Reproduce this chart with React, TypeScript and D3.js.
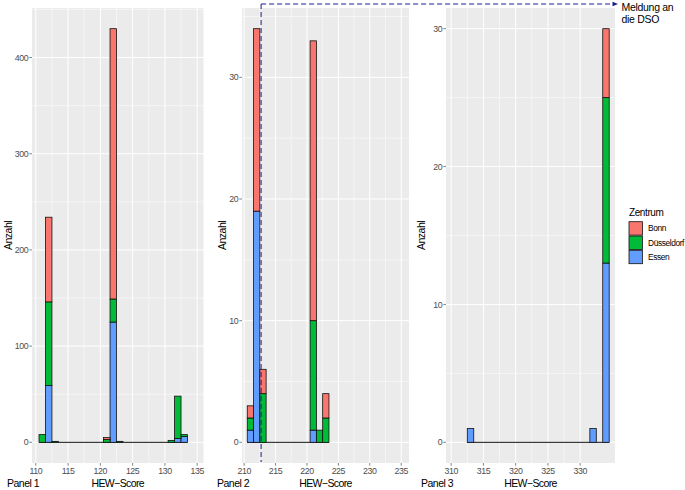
import * as d3 from "d3";

const W = 685;
const H = 490;

// ---- data: stacked histogram counts per HEW-Score bin (binwidth 1)
const centres = ["Bonn", "Düsseldorf", "Essen"];
const stackKeys = ["Essen", "Düsseldorf", "Bonn"]; // bottom -> top
const fills: Record<string, string> = {
  Bonn: "#F8766D",
  "Düsseldorf": "#00BA38",
  Essen: "#619CFF",
};

const p1Scores = [111, 112, 113, 121, 122, 123, 131, 132, 133];
const p1Essen = [0, 59, 0, 0, 125, 0, 0, 4, 6];
const p1Duesseldorf = [8, 87, 1, 3, 24, 1, 2, 44, 2];
const p1Bonn = [0, 88, 0, 2, 281, 0, 0, 0, 0];
const p1XTicks = [110, 115, 120, 125, 130, 135];
const p1YTicks = [0, 100, 200, 300, 400];

const p2Scores = [211, 212, 213, 221, 222, 223];
const p2Essen = [1, 19, 0, 1, 0, 0];
const p2Duesseldorf = [1, 0, 4, 9, 1, 2];
const p2Bonn = [1, 15, 2, 23, 0, 2];
const p2XTicks = [210, 215, 220, 225, 230, 235];
const p2YTicks = [0, 10, 20, 30];

const p3Scores = [313, 332, 334];
const p3Essen = [1, 1, 13];
const p3Duesseldorf = [0, 0, 12];
const p3Bonn = [0, 0, 5];
const p3XTicks = [310, 315, 320, 325, 330];
const p3YTicks = [0, 10, 20, 30];

const dsoCutoff = 212.7;

// ---- layout
const plotTop = 8;
const plotBottom = 463;

const panels = [
  {
    label: "Panel 1",
    left: 32, right: 203.5,
    xDomain: [109.41, 135.98], yDomain: [-21.5, 451.5],
    scores: p1Scores, essen: p1Essen, duess: p1Duesseldorf, bonn: p1Bonn,
    xTicks: p1XTicks, yTicks: p1YTicks, yMinor: [50, 150, 250, 350, 450],
    yTitleX: 8,
  },
  {
    label: "Panel 2",
    left: 242, right: 409,
    xDomain: [209.66, 236.24], yDomain: [-1.7, 35.7],
    scores: p2Scores, essen: p2Essen, duess: p2Duesseldorf, bonn: p2Bonn,
    xTicks: p2XTicks, yTicks: p2YTicks, yMinor: [5, 15, 25, 35],
    yTitleX: 222,
  },
  {
    label: "Panel 3",
    left: 446, right: 615,
    xDomain: [309.2, 335.4], yDomain: [-1.5, 31.5],
    scores: p3Scores, essen: p3Essen, duess: p3Duesseldorf, bonn: p3Bonn,
    xTicks: p3XTicks, yTicks: p3YTicks, yMinor: [5, 15, 25],
    yTitleX: 421,
  },
];

const tickColor = "#333333";
const tickText = "#4D4D4D";

const Panel = ({ p }: { p: any }) => {
  const xs = d3.scaleLinear().domain(p.xDomain).range([p.left, p.right]);
  const ys = d3.scaleLinear().domain(p.yDomain).range([plotBottom, plotTop]);

  const rows = p.scores.map((s: number, i: number) => ({
    score: s,
    Essen: p.essen[i],
    "Düsseldorf": p.duess[i],
    Bonn: p.bonn[i],
  }));
  const stacked = d3.stack<any>().keys(stackKeys)(rows);

  const xMinor = p.xTicks
    .slice(0, -1)
    .map((t: number, i: number) => (t + p.xTicks[i + 1]) / 2)
    .filter((v: number) => v > p.xDomain[0] && v < p.xDomain[1]);

  const first = p.scores[0];
  const last = p.scores[p.scores.length - 1];
  const midX = (p.left + p.right) / 2;
  const midY = (plotTop + plotBottom) / 2;

  return (
    <g>
      <rect x={p.left} y={plotTop} width={p.right - p.left} height={plotBottom - plotTop} fill="#EBEBEB" />
      {p.yMinor.map((v: number) => (
        <line key={"ym" + v} x1={p.left} x2={p.right} y1={ys(v)} y2={ys(v)} stroke="#fff" strokeWidth={0.5} />
      ))}
      {xMinor.map((v: number) => (
        <line key={"xm" + v} x1={xs(v)} x2={xs(v)} y1={plotTop} y2={plotBottom} stroke="#fff" strokeWidth={0.5} />
      ))}
      {p.yTicks.map((v: number) => (
        <line key={"yg" + v} x1={p.left} x2={p.right} y1={ys(v)} y2={ys(v)} stroke="#fff" strokeWidth={1} />
      ))}
      {p.xTicks.map((v: number) => (
        <line key={"xg" + v} x1={xs(v)} x2={xs(v)} y1={plotTop} y2={plotBottom} stroke="#fff" strokeWidth={1} />
      ))}

      {/* zero-count bins show up as a flat outline on the baseline */}
      <line x1={xs(first - 0.5)} x2={xs(last + 0.5)} y1={ys(0)} y2={ys(0)} stroke="#111" strokeWidth={1} />

      {stacked.map((layer: any) =>
        layer.map((d: any, i: number) => {
          const h = ys(d[0]) - ys(d[1]);
          if (h <= 0) return null;
          const s = p.scores[i];
          return (
            <rect
              key={layer.key + s}
              x={xs(s - 0.5)}
              width={xs(s + 0.5) - xs(s - 0.5)}
              y={ys(d[1])}
              height={h}
              fill={fills[layer.key]}
              stroke="#111"
              strokeWidth={0.8}
            />
          );
        })
      )}

      {/* axes */}
      {p.yTicks.map((v: number) => (
        <g key={"yt" + v}>
          <line x1={p.left - 2.7} x2={p.left} y1={ys(v)} y2={ys(v)} stroke={tickColor} strokeWidth={0.6} />
          <text x={p.left - 3.8} y={ys(v)} dy="0.35em" textAnchor="end" fontSize={8.8} letterSpacing={-0.4} fill={tickText}>
            {v}
          </text>
        </g>
      ))}
      {p.xTicks.map((v: number) => (
        <g key={"xt" + v}>
          <line x1={xs(v)} x2={xs(v)} y1={plotBottom} y2={plotBottom + 2.7} stroke={tickColor} strokeWidth={0.6} />
          <text x={xs(v)} y={473.5} textAnchor="middle" fontSize={8.8} letterSpacing={-0.4} fill={tickText}>
            {v}
          </text>
        </g>
      ))}
      <text x={midX} y={487} textAnchor="middle" fontSize={10.5} letterSpacing={-0.6} fill="#000">
        HEW−Score
      </text>
      <text
        transform={`translate(${p.yTitleX},${midY}) rotate(-90)`}
        dy="0.35em"
        textAnchor="middle"
        fontSize={10.5}
        letterSpacing={-0.5}
        fill="#000"
      >
        Anzahl
      </text>
      <text x={p.left - 25} y={487} fontSize={10.5} letterSpacing={-0.5} fill="#000">
        {p.label}
      </text>
    </g>
  );
};

const Legend = () => {
  const keyX = 629;
  const keyY = 221.7;
  const pitch = 14.3;
  const size = 13.4;
  return (
    <g>
      <text x={keyX} y={216} fontSize={10} letterSpacing={-0.4} fill="#000">
        Zentrum
      </text>
      {centres.map((c, i) => (
        <g key={c}>
          <rect x={keyX} y={keyY + i * pitch} width={size} height={size} fill={fills[c]} stroke="#111" strokeWidth={0.8} />
          <text x={keyX + 19} y={keyY + i * pitch + size / 2} dy="0.35em" fontSize={8.4} letterSpacing={-0.4} fill="#000">
            {c}
          </text>
        </g>
      ))}
    </g>
  );
};

const Annotation = () => {
  const p = panels[1];
  const xs = d3.scaleLinear().domain(p.xDomain).range([p.left, p.right]);
  const x = xs(dsoCutoff);
  const yTop = 4;
  const arrowEnd = 618;
  const col = "#1C1C8F";
  return (
    <g>
      <line x1={x} x2={x} y1={yTop} y2={462} stroke={col} strokeWidth={1} strokeDasharray="5,3" />
      <line x1={x} x2={arrowEnd - 4} y1={yTop} y2={yTop} stroke={col} strokeWidth={1} strokeDasharray="5,3" />
      <path d={`M${arrowEnd},${yTop} L${arrowEnd - 5.5},${yTop - 2.3} L${arrowEnd - 5.5},${yTop + 2.3} Z`} fill={col} />
      <text x={621.5} y={10.5} fontSize={10.5} letterSpacing={-0.3} fill="#000">
        Meldung an
      </text>
      <text x={621.5} y={23} fontSize={10.5} letterSpacing={-0.3} fill="#000">
        die DSO
      </text>
    </g>
  );
};

export default function App() {
  return (
    <svg
      width={W}
      height={H}
      style={{ position: "absolute", left: 0, top: 0, background: "#fff" }}
      fontFamily="'Liberation Sans', Arial, sans-serif"
    >
      {panels.map((p) => (
        <Panel key={p.label} p={p} />
      ))}
      <Legend />
      <Annotation />
    </svg>
  );
}
